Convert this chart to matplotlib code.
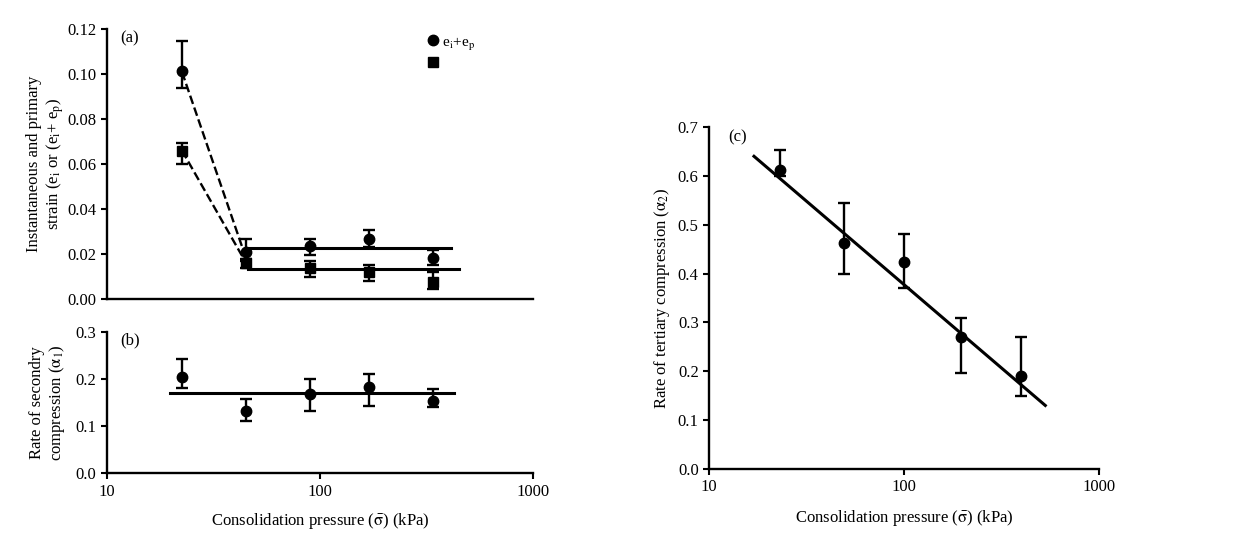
import numpy as np
import matplotlib.pyplot as plt
from matplotlib.lines import Line2D

plt.rcParams['font.family'] = ['Liberation Serif', 'DejaVu Serif']
plt.rcParams['mathtext.fontset'] = 'stix'
plt.rcParams['font.size'] = 12

# panel (a) and (b) pressures (kPa)
p_ab = [22.5, 45, 90, 170, 340]

# (a) ei + ep (circles) and ei (squares)
eiep = [0.1016, 0.021, 0.0236, 0.0267, 0.0181]
eiep_lo = [0.0076, 0.004, 0.004, 0.0037, 0.0031]
eiep_hi = [0.0131, 0.0057, 0.003, 0.004, 0.0037]
ei = [0.0659, 0.0159, 0.0137, 0.0122, 0.0077]
ei_lo = [0.0059, 0.002, 0.0038, 0.0042, 0.0034]
ei_hi = [0.0037, 0.002, 0.0032, 0.0029, 0.0045]

# (a) guide lines
dash_x = [22.5, 45]
dash_eiep = [0.101, 0.018]
dash_ei = [0.066, 0.016]
flat_eiep_x = [45, 412]
flat_eiep_y = [0.0225, 0.0225]
flat_ei_x = [46, 449]
flat_ei_y = [0.0132, 0.0132]

# (b) secondary compression
alpha1 = [0.2047, 0.1327, 0.169, 0.183, 0.154]
alpha1_lo = [0.024, 0.022, 0.036, 0.04, 0.014]
alpha1_hi = [0.037, 0.024, 0.031, 0.027, 0.025]
flat_b_x = [19.8, 426]
flat_b_y = [0.171, 0.171]

# (c) tertiary compression
p_c = [23, 49, 100, 196, 400]
alpha2 = [0.612, 0.462, 0.423, 0.27, 0.19]
alpha2_lo = [0.012, 0.062, 0.053, 0.073, 0.04]
alpha2_hi = [0.04, 0.083, 0.057, 0.04, 0.08]
fit_x = [17, 530]
fit_y = [0.64, 0.13]

xlabel = r'Consolidation pressure ($\mathrm{\bar{\sigma}}$) (kPa)'

fig = plt.figure(figsize=(12.37, 5.48), dpi=100)
ax_a = fig.add_axes([0.0865, 0.4544, 0.3444, 0.4921])
ax_b = fig.add_axes([0.0865, 0.1363, 0.3444, 0.2584])
ax_c = fig.add_axes([0.5732, 0.1442, 0.3153, 0.6241])


def style(ax):
    ax.set_xscale('log')
    ax.set_xlim(10, 1000)
    for s in ['top', 'right']:
        ax.spines[s].set_visible(False)
    for s in ['left', 'bottom']:
        ax.spines[s].set_linewidth(1.7)
    ax.tick_params(width=1.5, length=4, direction='out', labelsize=12)
    ax.tick_params(which='minor', length=0)
    ax.set_xticks([10, 100, 1000])
    ax.set_xticklabels(['10', '100', '1000'])


for ax in (ax_a, ax_b, ax_c):
    style(ax)

ekw = dict(color='black', ecolor='black', elinewidth=1.7, capsize=4, capthick=1.7, ls='none')

# (a)
ax_a.plot(dash_x, dash_eiep, 'k--', lw=1.7)
ax_a.plot(dash_x, dash_ei, 'k--', lw=1.7)
ax_a.plot(flat_eiep_x, flat_eiep_y, 'k-', lw=2.2)
ax_a.plot(flat_ei_x, flat_ei_y, 'k-', lw=2.2)
ax_a.errorbar(p_ab, eiep, yerr=[eiep_lo, eiep_hi], marker='o', ms=7.5, **ekw)
ax_a.errorbar(p_ab, ei, yerr=[ei_lo, ei_hi], marker='s', ms=7.5, **ekw)
ax_a.set_ylim(0, 0.12)
ax_a.set_yticks(np.arange(0, 0.121, 0.02))
ax_a.set_yticklabels(['%.2f' % v for v in np.arange(0, 0.121, 0.02)])
ax_a.tick_params(axis='x', which='both', length=0, labelbottom=False)
ax_a.set_ylabel('Instantaneous and primary\n' + r'strain (e$_{\rm i}$ or (e$_{\rm i}$+ e$_{\rm p}$)',
                labelpad=1)
ax_a.text(0.03, 0.967, '(a)', transform=ax_a.transAxes, va='center', fontsize=12)
h1 = Line2D([], [], color='black', marker='o', ms=7.5, ls='none')
h2 = Line2D([], [], color='black', marker='s', ms=7.5, ls='none')
ax_a.legend([h1, h2], [r'e$_{\rm i}$+e$_{\rm p}$', ''], loc='upper left',
            bbox_to_anchor=(0.73, 1.02), frameon=False, handlelength=0.6,
            handletextpad=0.3, labelspacing=0.3, borderpad=0.2, fontsize=11)

# (b)
ax_b.plot(flat_b_x, flat_b_y, 'k-', lw=2.2)
ax_b.errorbar(p_ab, alpha1, yerr=[alpha1_lo, alpha1_hi], marker='o', ms=7.5, **ekw)
ax_b.set_ylim(0, 0.3)
ax_b.set_yticks([0, 0.1, 0.2, 0.3])
ax_b.set_yticklabels(['0.0', '0.1', '0.2', '0.3'])
ax_b.set_ylabel('Rate of secondry\n' + r'compression ($\mathrm{\alpha_1}$)', labelpad=6)
ax_b.set_xlabel(xlabel, labelpad=8)
ax_b.text(0.03, 0.94, '(b)', transform=ax_b.transAxes, va='center', fontsize=12)

# (c)
ax_c.plot(fit_x, fit_y, 'k-', lw=2.2)
ax_c.errorbar(p_c, alpha2, yerr=[alpha2_lo, alpha2_hi], marker='o', ms=7.5, **ekw)
ax_c.set_ylim(0, 0.7)
ax_c.set_yticks(np.arange(0, 0.71, 0.1))
ax_c.set_yticklabels(['%.1f' % v for v in np.arange(0, 0.71, 0.1)])
ax_c.set_ylabel(r'Rate of tertiary compression ($\mathrm{\alpha_2}$)')
ax_c.set_xlabel(xlabel, labelpad=9)
ax_c.text(0.05, 0.97, '(c)', transform=ax_c.transAxes, va='center', fontsize=12)

fig.savefig('out.png', dpi=100)
